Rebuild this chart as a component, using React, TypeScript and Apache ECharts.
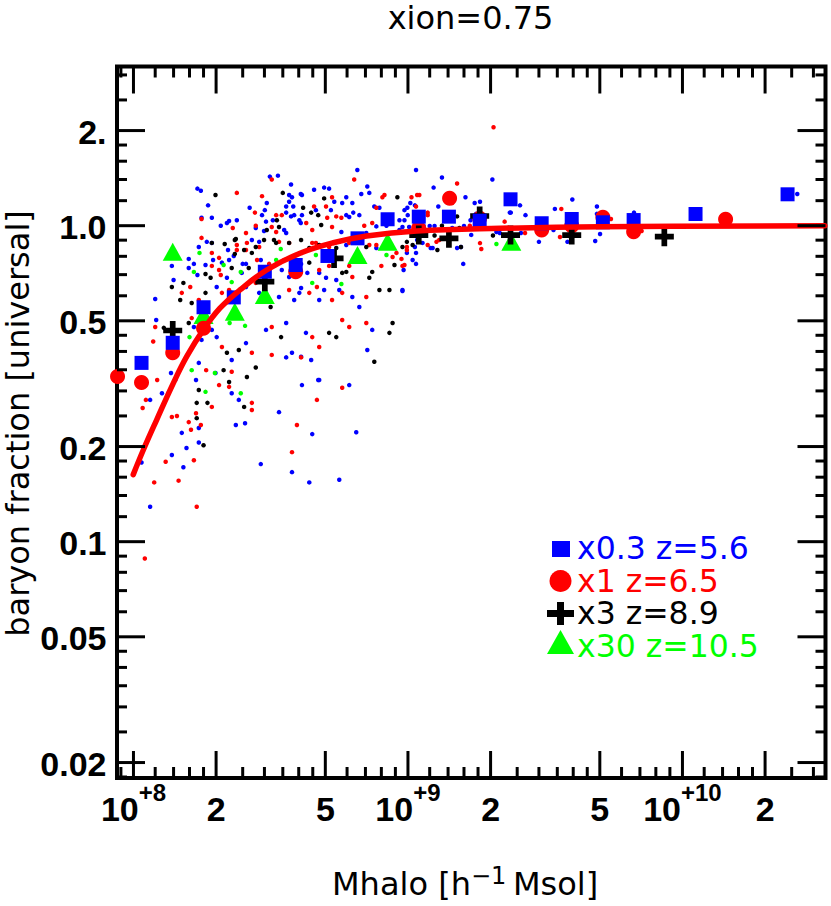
import React, { useEffect, useRef } from 'react';
import * as echarts from 'echarts';

// ---------- axis ranges ----------
const X_MIN = 8.71e7;
const X_MAX = 3.32e10;
const Y_MIN = 0.01787;
const Y_MAX = 3.19;

// ---------- tick scheme ----------
const TICK_MANTISSAS = [1, 1.2, 1.4, 1.6, 1.8, 2, 2.5, 3, 3.5, 4, 4.5, 5, 6, 7, 8, 9];
const MAJOR_MANTISSAS = [1, 2, 5];
const X_DECADES = [7, 8, 9, 10];
const Y_DECADES = [-2, -1, 0];
const X_TICK_LABELS: [number, string, string][] = [
  [1e8, '10', '+8'], [2e8, '2', ''], [5e8, '5', ''],
  [1e9, '10', '+9'], [2e9, '2', ''], [5e9, '5', ''],
  [1e10, '10', '+10'], [2e10, '2', ''],
];
const Y_TICK_LABELS: [number, string][] = [
  [2, '2.'], [1, '1.0'], [0.5, '0.5'], [0.2, '0.2'], [0.1, '0.1'], [0.05, '0.05'], [0.02, '0.02'],
];

// ---------- texts ----------
const TITLE = 'xion=0.75';
const Y_TITLE = 'baryon fraction [universal]';
const X_TITLE_PARTS = ['Mhalo [h', '\u22121', 'Msol]'];
const LEGEND_LABELS = ['x0.3 z=5.6', 'x1 z=6.5', 'x3 z=8.9', 'x30 z=10.5'];
const COLORS = ['#0000ff', '#ff0000', '#000000', '#00ff00'];

// ---------- data: [Mhalo, baryon fraction] ----------
const BLUE_SQUARES = [
  [1.07e8, 0.368], [1.39e8, 0.426], [1.80e8, 0.552], [2.32e8, 0.593], [3.01e8, 0.715],
  [3.90e8, 0.751], [5.09e8, 0.802], [6.55e8, 0.912], [8.43e8, 1.048], [1.095e9, 1.068],
  [1.41e9, 1.068], [1.825e9, 1.037], [2.364e9, 1.212], [3.07e9, 1.018], [3.95e9, 1.05],
  [5.13e9, 1.025], [6.64e9, 1.042], [1.116e10, 1.089], [2.415e10, 1.257],
];
const RED_CIRCLES = [
  [8.75e7, 0.333], [1.07e8, 0.319], [1.39e8, 0.396], [1.80e8, 0.474], [3.90e8, 0.715],
  [1.094e9, 0.981], [1.418e9, 1.221], [1.825e9, 1.055], [3.07e9, 0.969], [3.95e9, 1.0],
  [5.13e9, 1.063], [6.64e9, 0.957], [1.436e10, 1.048],
];
const BLACK_PLUSES = [
  [1.39e8, 0.466], [3.01e8, 0.665], [5.38e8, 0.788], [1.095e9, 0.934], [1.41e9, 0.912],
  [1.825e9, 1.073], [2.364e9, 0.934], [3.95e9, 0.934], [8.59e9, 0.923],
];
const GREEN_TRIANGLES = [
  [1.39e8, 0.827], [1.80e8, 0.522], [2.34e8, 0.534], [3.01e8, 0.604], [6.55e8, 0.808],
  [8.43e8, 0.890], [2.38e9, 0.890],
];

const BLUE_DOTS = [
  [6.54e8, 1.50], [3.14e8, 1.43], [3.36e8, 1.44], [3.75e8, 1.35], [1.71e8, 1.31], [1.76e8, 1.29],
  [3.78e8, 1.23], [4.07e8, 1.26], [4.55e8, 1.30], [4.95e8, 1.32], [5.16e8, 1.31], [7.11e8, 1.33],
  [6.76e8, 1.26], [1.87e8, 1.16], [3.69e8, 1.19], [3.60e8, 1.15], [3.82e8, 1.15], [5.76e8, 1.18],
  [6.27e8, 1.18], [7.54e8, 1.15], [7.87e8, 1.14], [1.06e9, 1.16], [2.19e8, 1.02], [2.38e8, 1.04],
  [2.08e8, 1.00], [2.94e8, 1.08], [3.04e8, 1.03], [3.75e8, 1.07], [4.02e8, 1.04], [5.96e8, 1.08],
  [6.32e8, 1.10], [6.65e8, 1.08], [7.67e8, 0.995], [8.35e8, 1.00], [9.31e8, 1.04], [9.98e8, 1.08],
  [2.79e8, 0.983], [3.60e8, 0.948], [2.70e8, 0.901], [1.73e8, 0.856], [1.85e8, 0.889], [1.59e8, 0.785],
  [1.66e8, 0.757], [2.32e8, 0.802], [1.38e8, 0.746], [1.40e8, 0.673], [1.71e8, 0.698], [2.10e8, 0.764],
  [2.48e8, 0.709], [2.57e8, 0.757], [2.70e8, 0.673], [2.91e8, 0.779], [3.69e8, 0.688], [4.08e8, 0.757],
  [4.30e8, 0.709], [4.75e8, 0.709], [5.48e8, 0.673], [6.82e8, 0.779], [1.04e9, 0.779], [1.20e8, 0.586],
  [2.01e8, 0.640], [2.57e8, 0.640], [2.87e8, 0.613], [3.39e8, 0.595], [3.85e8, 0.582], [4.02e8, 0.613],
  [4.75e8, 0.582], [4.95e8, 0.626], [6.27e8, 0.595], [6.65e8, 0.553], [9.55e8, 0.626], [1.21e8, 0.503],
  [1.37e8, 0.342], [1.42e8, 0.325], [1.34e8, 0.295], [1.15e8, 0.281], [1.27e8, 0.295], [1.66e8, 0.478],
  [1.77e8, 0.435], [1.93e8, 0.468], [2.01e8, 0.444], [2.28e8, 0.376], [2.57e8, 0.425], [3.04e8, 0.468],
  [3.60e8, 0.492], [3.78e8, 0.396], [4.25e8, 0.458], [7.41e8, 0.468], [7.11e8, 0.404], [6.11e8, 0.313],
  [4.75e8, 0.325], [4.11e8, 0.313], [4.08e8, 0.385], [3.60e8, 0.383], [1.99e8, 0.342], [1.73e8, 0.368],
  [1.69e8, 0.325], [2.28e8, 0.295], [2.42e8, 0.281], [1.50e8, 0.221], [1.73e8, 0.229], [1.73e8, 0.206],
  [1.56e8, 0.198], [1.52e8, 0.172], [1.38e8, 0.188], [1.07e8, 0.178], [1.15e8, 0.129], [2.36e8, 0.234],
  [2.55e8, 0.237], [2.91e8, 0.176], [3.39e8, 0.257], [3.78e8, 0.166], [4.48e8, 0.219], [4.37e8, 0.154],
  [5.62e8, 0.157], [4.71e8, 0.325], [6.48e8, 0.222], [4.44e8, 0.376], [2.03e9, 1.40], [1.07e9, 1.50],
  [1.33e9, 1.42], [1.24e9, 1.32], [1.62e9, 1.23], [2.56e9, 1.16], [2.68e9, 1.08], [3.97e9, 1.21],
  [3.43e9, 1.13], [4.88e9, 1.15], [4.88e9, 1.09], [6.66e9, 1.10], [5.01e9, 0.941], [4.81e9, 0.894],
  [6.55e9, 0.955], [2.62e10, 1.26], [3.00e9, 0.889], [3.39e9, 0.969], [3.81e9, 0.889], [3.13e9, 0.948],
  [2.35e9, 1.10], [2.10e9, 0.955], [1.59e9, 0.757], [9.55e8, 0.621], [1.07e9, 0.757], [9.64e8, 0.724],
  [9.91e8, 0.820], [1.07e9, 0.82], [1.02e9, 1.18], [9.95e8, 1.14], [9.71e8, 1.04], [1.29e9, 1.15],
  [1.45e9, 1.23], [1.60e9, 0.998], [1.75e9, 1.18], [1.83e9, 1.19], [1.77e9, 1.09], [1.70e9, 0.935],
  [1.56e9, 0.856], [1.51e9, 0.85], [1.21e9, 0.85], [1.08e9, 0.901], [1.06e9, 0.856], [9.55e8, 0.991],
  [1.14e9, 1.00], [1.20e9, 0.998], [1.25e9, 0.998], [1.45e9, 0.983], [1.69e9, 1.04], [2.37e9, 1.10],
  [2.16e9, 0.948], [2.58e9, 0.948],
  [1.77e8, 1.06], [1.93e8, 1.06], [2.23e8, 1.035], [2.65e8, 1.14], [3.01e8, 1.12], [3.06e8, 1.18],
  [3.22e8, 1.04], [2.99e8, 0.962], [1.93e8, 0.882], [2.21e8, 0.838], [2.87e8, 0.889], [1.95e8, 0.779],
  [2.23e8, 0.779], [2.50e8, 0.757], [1.59e8, 0.735], [2.19e8, 0.684], [1.83e8, 0.751], [3.69e8, 1.25],
  [4.11e8, 1.25], [5.39e8, 1.19], [5.96e8, 1.23], [7.23e8, 1.27], [3.60e8, 1.10], [3.85e8, 1.08],
  [4.11e8, 1.08], [4.62e8, 1.12], [5.24e8, 1.12], [6.11e8, 1.065], [9.71e8, 1.12], [3.54e8, 0.969],
  [4.07e8, 1.02], [5.72e8, 0.955], [7.05e8, 0.948], [9.31e8, 0.969], [1.01e9, 0.991], [5.96e8, 0.869],
  [7.67e8, 0.85], [1.13e9, 0.882], [1.23e9, 0.85], [3.47e8, 0.724], [5.03e8, 0.684], [5.62e8, 0.626],
  [4.08e8, 0.635],
];
const RED_DOTS = [
  [3.19e8, 1.40], [2.38e8, 1.27], [6.37e8, 1.40], [2.94e8, 1.24], [5.29e8, 1.23], [8.07e8, 1.23],
  [1.03e9, 1.23], [4.55e8, 1.15], [5.03e8, 1.15], [2.77e8, 1.10], [1.77e8, 1.05], [3.47e8, 1.08],
  [4.26e8, 1.02], [5.08e8, 1.06], [5.48e8, 1.07], [6.93e8, 1.00], [2.57e8, 0.948], [1.93e8, 0.820],
  [2.38e8, 0.838], [2.57e8, 0.838], [2.87e8, 0.856], [3.39e8, 0.889], [4.48e8, 0.882], [5.16e8, 0.856],
  [6.11e8, 0.882], [7.67e8, 0.869], [9.08e8, 0.820], [1.93e8, 0.746], [2.05e8, 0.724], [3.12e8, 0.757],
  [3.54e8, 0.779], [5.16e8, 0.746], [6.11e8, 0.746], [8.00e8, 0.746], [8.79e8, 0.796], [9.55e8, 0.746],
  [1.20e8, 0.478], [1.18e8, 0.430], [1.50e8, 0.613], [1.61e8, 0.640], [1.73e8, 0.582], [2.10e8, 0.613],
  [2.23e8, 0.626], [2.79e8, 0.659], [2.94e8, 0.582], [3.69e8, 0.626], [4.37e8, 0.613], [5.29e8, 0.582],
  [5.76e8, 0.613], [7.05e8, 0.595], [1.22e8, 0.325], [1.11e8, 0.281], [1.08e8, 0.265], [1.38e8, 0.248],
  [1.44e8, 0.250], [1.63e8, 0.510], [2.10e8, 0.413], [2.70e8, 0.396], [3.19e8, 0.478], [4.48e8, 0.444],
  [4.75e8, 0.413], [5.76e8, 0.503], [6.11e8, 0.478], [7.05e8, 0.492], [5.76e8, 0.307], [4.08e8, 0.383],
  [3.19e8, 0.390], [2.28e8, 0.345], [1.84e8, 0.349], [1.93e8, 0.267], [2.05e8, 0.313], [2.23e8, 0.309],
  [2.70e8, 0.275], [2.70e8, 0.261], [1.69e8, 0.255], [1.76e8, 0.234], [1.59e8, 0.239], [1.62e8, 0.226],
  [1.66e8, 0.181], [1.31e8, 0.179], [1.19e8, 0.154], [1.46e8, 0.156], [1.70e8, 0.129], [1.10e8, 0.0885],
  [3.78e8, 0.192], [3.94e8, 0.234], [4.66e8, 0.281], [2.05e9, 2.05], [1.51e9, 1.36], [1.10e9, 1.25],
  [3.62e9, 1.13], [5.49e9, 1.05], [7.10e9, 0.962], [3.58e9, 0.921], [2.25e9, 1.03], [2.67e9, 0.948],
  [9.71e8, 0.751], [9.47e8, 0.785], [1.07e9, 1.15], [1.18e9, 1.10], [1.45e9, 1.18], [1.68e9, 1.00],
  [1.85e9, 0.844], [1.83e9, 0.881], [1.30e9, 0.901], [1.27e9, 0.889], [1.18e9, 0.869], [9.91e8, 0.856],
  [2.30e8, 0.983], [2.79e8, 1.00], [3.31e8, 0.955], [1.77e8, 0.915], [2.38e8, 0.869], [2.59e8, 0.882],
  [2.05e8, 0.791], [2.82e8, 0.779], [2.08e8, 0.698], [8.21e8, 1.25], [1.08e9, 1.25], [3.31e8, 1.08],
  [5.72e8, 1.06], [7.67e8, 1.14], [1.18e9, 1.08], [3.19e8, 0.991], [4.48e8, 0.969], [5.29e8, 0.991],
  [7.41e8, 1.02], [3.69e8, 0.882], [4.62e8, 0.882], [7.23e8, 0.869], [9.91e8, 0.838], [4.75e8, 0.724],
  [6.27e8, 0.688], [4.66e8, 0.640],
];
const BLACK_DOTS = [
  [1.99e8, 1.25], [3.50e8, 1.27], [4.95e8, 1.22], [9.15e8, 1.23], [4.15e8, 1.14], [4.44e8, 1.10],
  [3.33e8, 1.04], [4.71e8, 1.08], [3.06e8, 0.969], [3.39e8, 0.991], [1.93e8, 0.882], [2.15e8, 0.875],
  [2.34e8, 0.901], [2.70e8, 0.820], [3.69e8, 0.882], [4.08e8, 0.901], [4.75e8, 0.869], [5.62e8, 0.889],
  [7.05e8, 0.856], [8.35e8, 0.856], [9.55e8, 0.856], [1.04e9, 0.869], [1.38e8, 0.640], [1.52e8, 0.659],
  [2.28e8, 0.735], [3.78e8, 0.746], [5.76e8, 0.709], [7.41e8, 0.714], [1.48e8, 0.582], [1.63e8, 0.569],
  [1.83e8, 0.613], [2.28e8, 0.613], [3.16e8, 0.553], [7.87e8, 0.626], [8.56e8, 0.626], [1.29e8, 0.475],
  [1.37e8, 0.396], [1.59e8, 0.492], [2.19e8, 0.396], [2.42e8, 0.404], [2.79e8, 0.356], [3.45e8, 0.444],
  [5.16e8, 0.458], [5.48e8, 0.444], [8.79e8, 0.492], [8.56e8, 0.458], [7.54e8, 0.371], [2.59e8, 0.332],
  [2.23e8, 0.320], [2.13e8, 0.349], [1.73e8, 0.302], [1.86e8, 0.275], [1.70e8, 0.275], [2.53e8, 0.267],
  [1.70e8, 0.246], [1.80e8, 0.202], [1.54e9, 0.983], [2.04e9, 0.931], [1.25e9, 0.931], [1.28e9, 0.838],
  [9.91e8, 0.889], [1.33e9, 1.00], [1.51e9, 1.07], [1.56e9, 0.856],
  [2.36e8, 0.908], [2.34e8, 0.814], [2.53e8, 0.838], [2.79e8, 0.856], [2.99e8, 0.901], [3.31e8, 0.882],
  [2.63e8, 0.735], [1.83e8, 0.703], [1.91e8, 0.684], [4.83e8, 1.005], [3.25e8, 0.901], [4.37e8, 0.85],
  [5.48e8, 0.85], [4.37e8, 0.764], [5.96e8, 0.714], [7.23e8, 0.684], [8.93e8, 0.751],
];
const GREEN_DOTS = [
  [1.74e8, 0.820], [1.66e8, 0.714], [1.63e8, 0.349], [1.83e8, 0.298], [2.46e8, 0.295], [2.10e9, 0.875],
  [2.13e8, 0.751], [2.46e8, 0.714], [2.28e8, 0.663], [1.60e8, 0.444], [1.98e8, 0.342], [2.24e8, 0.492],
  [2.55e8, 0.482], [3.44e8, 0.844], [4.62e8, 0.808], [8.35e8, 0.808], [5.72e8, 0.654], [4.48e8, 0.659],
  [3.31e8, 0.779],
];

// fitted curve
const FIT_CURVE = [
  [9.98e7, 0.163], [1.086e8, 0.195], [1.215e8, 0.243], [1.396e8, 0.317], [1.562e8, 0.385],
  [1.796e8, 0.468], [2.066e8, 0.548], [2.443e8, 0.626], [3.057e8, 0.724], [4.043e8, 0.818],
  [5.345e8, 0.883], [7.07e8, 0.928], [1.076e9, 0.962], [2.164e9, 0.981], [5.006e9, 0.993],
  [3.30e10, 1.0],
];

const PLUS_PATH = 'path://M-0.9,-3H0.9V-0.9H3V0.9H0.9V3H-0.9V0.9H-3V-0.9H-0.9Z';
const LABEL_FONT = 'Liberation Sans';
const TEXT_FONT = 'DejaVu Sans';

function boldWidth(s: string, size: number) {
  let w = 0;
  for (const ch of s) w += ch === '+' ? 0.584 : ch === '.' ? 0.278 : 0.556;
  return w * size;
}

function buildTicks(decades: number[], lo: number, hi: number) {
  const out: [number, number][] = [];
  for (const e of decades) {
    for (const m of TICK_MANTISSAS) {
      const v = m * Math.pow(10, e);
      if (v >= lo * 0.999 && v <= hi * 1.001) out.push([v, MAJOR_MANTISSAS.includes(m) ? 1 : 0]);
    }
  }
  return out;
}

const txtStyle = (text: string, size: number, align: string, fill = '#000', font = TEXT_FONT, weight = 'normal') => ({
  text, fill, fontFamily: font, fontSize: size, fontWeight: weight,
  align, verticalAlign: 'middle', textAlign: align, textVerticalAlign: 'middle',
});

export default function App() {
  const ref = useRef<HTMLDivElement>(null);
  useEffect(() => {
    if (!ref.current) return;
    const chart = echarts.init(ref.current, undefined, { renderer: 'svg' });
    const xTicks = buildTicks(X_DECADES, X_MIN, X_MAX).map(([v, mj]) => [v, Y_MIN, mj]);
    const yTicks = buildTicks(Y_DECADES, Y_MIN, Y_MAX).map(([v, mj]) => [X_MIN, v, mj]);
    const tickStyle = { stroke: '#000', lineWidth: 3 };

    const dotSeries = (data: number[][], color: string) => ({
      type: 'scatter', data, symbol: 'circle', symbolSize: 4.5, silent: true,
      itemStyle: { color, opacity: 1 }, z: 2,
    });
    const bigSeries = (data: number[][], color: string, symbol: string, symbolSize: any) => ({
      type: 'scatter', data, symbol, symbolSize, silent: true,
      itemStyle: { color, opacity: 1 }, z: 3,
    });

    const legendY = [548, 580.5, 613, 645.5];

    chart.setOption({
      animation: false,
      grid: {
        left: 117, top: 66.5, width: 708.5, height: 711.5,
        show: true, borderColor: '#000', borderWidth: 4, backgroundColor: 'rgba(0,0,0,0)',
        containLabel: false, outerBoundsMode: 'none',
      },
      xAxis: {
        type: 'log', logBase: 10, min: X_MIN, max: X_MAX,
        axisLine: { show: false }, axisTick: { show: false }, axisLabel: { show: false },
        splitLine: { show: false },
      },
      yAxis: {
        type: 'log', logBase: 10, min: Y_MIN, max: Y_MAX,
        axisLine: { show: false }, axisTick: { show: false }, axisLabel: { show: false },
        splitLine: { show: false },
      },
      series: [
        dotSeries(BLUE_DOTS, COLORS[0]),
        dotSeries(RED_DOTS, COLORS[1]),
        dotSeries(BLACK_DOTS, COLORS[2]),
        dotSeries(GREEN_DOTS, COLORS[3]),
        bigSeries(GREEN_TRIANGLES, COLORS[3], 'triangle', [20, 18]),
        bigSeries(RED_CIRCLES, COLORS[1], 'circle', 15),
        bigSeries(BLACK_PLUSES, COLORS[2], PLUS_PATH, 19),
        bigSeries(BLUE_SQUARES, COLORS[0], 'rect', 14),
        {
          type: 'line', data: FIT_CURVE, showSymbol: false, smooth: 0.4,
          lineStyle: { color: '#ff0000', width: 5.5, cap: 'round', join: 'round', opacity: 1 }, z: 4, silent: true,
        },
        {
          type: 'custom', data: xTicks, silent: true, z: 5,
          renderItem: (_p: any, api: any) => {
            const v = api.value(0);
            const len = api.value(2) === 1 ? 27 : 11;
            const b = api.coord([v, Y_MIN]);
            const t = api.coord([v, Y_MAX]);
            return {
              type: 'group', children: [
                { type: 'line', shape: { x1: b[0], y1: b[1], x2: b[0], y2: b[1] - len }, style: tickStyle },
                { type: 'line', shape: { x1: t[0], y1: t[1], x2: t[0], y2: t[1] + len }, style: tickStyle },
              ],
            };
          },
        },
        {
          type: 'custom', data: yTicks, silent: true, z: 5,
          renderItem: (_p: any, api: any) => {
            const v = api.value(1);
            const len = api.value(2) === 1 ? 28 : 10;
            const l = api.coord([X_MIN, v]);
            const r = api.coord([X_MAX, v]);
            return {
              type: 'group', children: [
                { type: 'line', shape: { x1: l[0], y1: l[1], x2: l[0] + len, y2: l[1] }, style: tickStyle },
                { type: 'line', shape: { x1: r[0], y1: r[1], x2: r[0] - len, y2: r[1] }, style: tickStyle },
              ],
            };
          },
        },
        {
          type: 'custom', data: X_TICK_LABELS.map((l) => [l[0], Y_MIN]), silent: true, z: 5,
          renderItem: (p: any, api: any) => {
            const [v, main, sup] = X_TICK_LABELS[p.dataIndex];
            const c = api.coord([v, Y_MIN]);
            const wMain = boldWidth(main, 34);
            const wSup = sup ? boldWidth(sup, 24) : 0;
            const x0 = c[0] - (wMain + wSup) / 2;
            const children: any[] = [{
              type: 'text', x: x0, y: c[1] + 30.5,
              style: txtStyle(main, 34, 'left', '#000', LABEL_FONT, 'bold'),
            }];
            if (sup) {
              children.push({
                type: 'text', x: x0 + wMain, y: c[1] + 14.5,
                style: txtStyle(sup, 24, 'left', '#000', LABEL_FONT, 'bold'),
              });
            }
            return { type: 'group', children };
          },
        },
        {
          type: 'custom', data: Y_TICK_LABELS.map((l) => [X_MIN, l[0]]), silent: true, z: 5,
          renderItem: (p: any, api: any) => {
            const [v, txt] = Y_TICK_LABELS[p.dataIndex];
            const c = api.coord([X_MIN, v]);
            return {
              type: 'text', x: c[0] - 10.5, y: c[1] + 1.5,
              style: txtStyle(txt, 34, 'right', '#000', LABEL_FONT, 'bold'),
            };
          },
        },
      ],
      graphic: [
        { type: 'text', x: 470.5, y: 18, style: txtStyle(TITLE, 32, 'center') },
        { type: 'text', x: 18, y: 423.5, rotation: Math.PI / 2, style: txtStyle(Y_TITLE, 32, 'center') },
        { type: 'text', x: 332, y: 883.5, style: txtStyle(X_TITLE_PARTS[0], 32, 'left') },
        { type: 'text', x: 471, y: 875.5, style: txtStyle(X_TITLE_PARTS[1], 24, 'left') },
        { type: 'text', x: 513, y: 883.5, style: txtStyle(X_TITLE_PARTS[2], 32, 'left') },
        // legend markers
        { type: 'rect', shape: { x: 552, y: 541, width: 18, height: 16 }, style: { fill: COLORS[0] } },
        { type: 'circle', shape: { cx: 560.5, cy: 581, r: 11 }, style: { fill: COLORS[1] } },
        { type: 'rect', shape: { x: 547, y: 610, width: 27, height: 7 }, style: { fill: COLORS[2] } },
        { type: 'rect', shape: { x: 557, y: 602, width: 7, height: 23 }, style: { fill: COLORS[2] } },
        { type: 'polygon', shape: { points: [[560.5, 630], [574, 654], [547, 654]] }, style: { fill: COLORS[3] } },
        ...LEGEND_LABELS.map((t, i) => ({
          type: 'text', x: 577, y: legendY[i], style: txtStyle(t, 31.5, 'left', COLORS[i]),
        })),
      ],
    });
    return () => chart.dispose();
  }, []);
  return <div ref={ref} style={{ position: 'fixed', left: 0, top: 0, width: 831, height: 906, background: '#fff' }} />;
}
